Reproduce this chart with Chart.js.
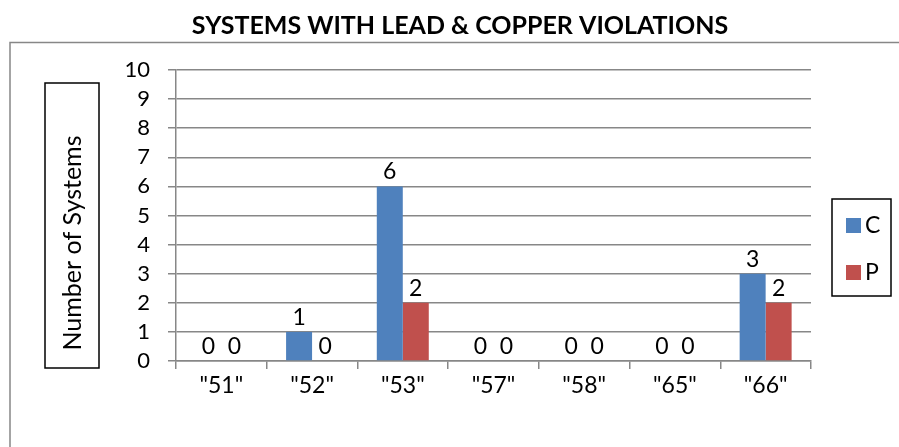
<!DOCTYPE html>
<html>
<head>
<meta charset="utf-8">
<script src="https://cdn.jsdelivr.net/npm/chart.js@4"></script>
<style>
  html, body { margin: 0; padding: 0; background: #fff; }
  #wrap { width: 899px; height: 447px; }
</style>
</head>
<body>
<div id="wrap"><canvas id="barChart" width="899" height="447"></canvas></div>
<script>
// datos del grafico
var categorias = ['"51"', '"52"', '"53"', '"57"', '"58"', '"65"', '"66"'];
var serieC = [0, 1, 6, 0, 0, 0, 3];
var serieP = [0, 0, 2, 0, 0, 0, 2];
var etiquetasSeries = ['C', 'P'];
var ejeYMin = 0;
var ejeYMax = 10;
var tituloGrafico = 'SYSTEMS WITH LEAD & COPPER VIOLATIONS';
var tituloEjeY = 'Number of Systems';

var FUENTE = 'Lato, Carlito, Calibri, sans-serif';
var GRIS = '#878787';

// marco, titulos, leyenda y etiquetas de datos
var decoracion = {
    id: 'decoracion',
    beforeDraw: function (chart) {
        var ctx = chart.ctx;
        ctx.save();
        ctx.fillStyle = '#fff';
        ctx.fillRect(0, 0, chart.width, chart.height);
        // marco exterior
        ctx.strokeStyle = GRIS;
        ctx.lineWidth = 1.5;
        ctx.strokeRect(10, 42.5, 1000, 1000);
        ctx.restore();
    },
    afterDraw: function (chart) {
        var ctx = chart.ctx;
        ctx.save();

        // titulo
        ctx.fillStyle = '#000';
        ctx.font = 'bold 25px ' + FUENTE;
        ctx.textAlign = 'center';
        ctx.textBaseline = 'middle';
        ctx.fillText(tituloGrafico, 460, 26);

        // titulo eje Y en caja
        ctx.strokeStyle = '#000';
        ctx.lineWidth = 1.5;
        ctx.strokeRect(45, 83, 54, 285);
        ctx.save();
        ctx.translate(73, 243);
        ctx.rotate(-Math.PI / 2);
        ctx.font = '25px ' + FUENTE;
        ctx.fillText(tituloEjeY, 0, 0);
        ctx.restore();

        // etiquetas de datos
        ctx.font = '23px ' + FUENTE;
        ctx.textAlign = 'center';
        ctx.textBaseline = 'bottom';
        chart.data.datasets.forEach(function (ds, i) {
            var meta = chart.getDatasetMeta(i);
            meta.data.forEach(function (bar, j) {
                ctx.fillText(String(ds.data[j]), bar.x, bar.y - 3);
            });
        });

        // leyenda
        ctx.strokeStyle = '#000';
        ctx.lineWidth = 1.5;
        ctx.strokeRect(832, 199, 59, 97);
        ctx.textAlign = 'left';
        ctx.textBaseline = 'middle';
        chart.data.datasets.forEach(function (ds, i) {
            var y = 218 + i * 47;
            ctx.fillStyle = ds.backgroundColor;
            ctx.fillRect(846, y, 15, 15);
            ctx.fillStyle = '#000';
            ctx.fillText(ds.label, 865, y + 8);
        });
        ctx.restore();
    }
};

var ctx = document.getElementById('barChart').getContext('2d');
var grafico = new Chart(ctx, {
    type: 'bar',
    data: {
        labels: categorias,
        datasets: [{
            label: etiquetasSeries[0],
            data: serieC,
            backgroundColor: '#4F81BD',
            barPercentage: 1,
            categoryPercentage: 0.573
        }, {
            label: etiquetasSeries[1],
            data: serieP,
            backgroundColor: '#C0504D',
            barPercentage: 1,
            categoryPercentage: 0.573
        }]
    },
    options: {
        responsive: false,
        animation: false,
        devicePixelRatio: 1,
        layout: { padding: { left: 0, right: 88, top: 70, bottom: 0 } },
        plugins: {
            legend: { display: false },
            title: { display: false },
            tooltip: { enabled: false }
        },
        scales: {
            x: {
                offset: true,
                grid: {
                    display: true,
                    offset: true,
                    drawOnChartArea: false,
                    drawTicks: true,
                    tickLength: 8,
                    color: GRIS,
                    lineWidth: 1.5
                },
                border: { color: GRIS, width: 1.5 },
                ticks: {
                    color: '#000',
                    font: { family: FUENTE, size: 23 },
                    padding: 3,
                    maxRotation: 0,
                    autoSkip: false
                },
                afterFit: function (scale) { scale.height = 86; }
            },
            y: {
                min: ejeYMin,
                max: ejeYMax,
                grid: {
                    color: GRIS,
                    lineWidth: 1.5,
                    tickLength: 8
                },
                border: { color: GRIS, width: 1.5 },
                ticks: {
                    stepSize: 1,
                    autoSkip: false,
                    color: '#000',
                    font: { family: FUENTE, size: 22 },
                    padding: 18
                },
                afterFit: function (scale) { scale.width = 176; }
            }
        }
    },
    plugins: [decoracion]
});
</script>
</body>
</html>
